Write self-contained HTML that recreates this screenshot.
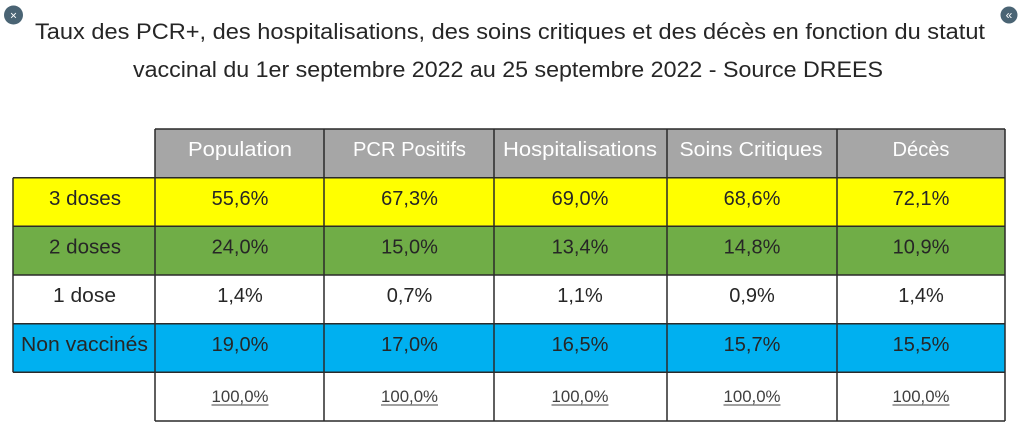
<!DOCTYPE html>
<html>
<head>
<meta charset="utf-8">
<style>
  html,body{margin:0;padding:0;background:#fff;}
  body{width:1024px;height:428px;overflow:hidden;}
  svg{display:block;}
  text{font-family:"Liberation Sans","DejaVu Sans",sans-serif;}
</style>
</head>
<body>
<svg width="1024" height="428" viewBox="0 0 1024 428" xmlns="http://www.w3.org/2000/svg">
  <rect x="0" y="0" width="1024" height="428" fill="#ffffff"/>

  <!-- corner icons -->
  <circle cx="13.5" cy="15" r="9.5" fill="#4a6474"/>
  <text x="13.5" y="19.5" font-size="12" fill="#ffffff" text-anchor="middle">×</text>
  <circle cx="1009" cy="15" r="8.5" fill="#4a6474"/>
  <text x="1009" y="19" font-size="12" fill="#ffffff" text-anchor="middle">«</text>

  <!-- title -->
  <text x="510" y="39" font-size="22" fill="#262626" text-anchor="middle" textLength="950" lengthAdjust="spacingAndGlyphs">Taux des PCR+, des hospitalisations, des soins critiques et des décès en fonction du statut</text>
  <text x="508" y="77" font-size="22" fill="#262626" text-anchor="middle" textLength="750" lengthAdjust="spacingAndGlyphs">vaccinal du 1er septembre 2022 au 25 septembre 2022 - Source DREES</text>

  <!-- fills -->
  <rect x="155" y="129" width="850" height="48.7" fill="#a6a6a6"/>
  <rect x="13" y="177.7" width="992" height="48.6" fill="#ffff00"/>
  <rect x="13" y="226.3" width="992" height="48.7" fill="#70ad47"/>
  <rect x="13" y="275" width="992" height="48.7" fill="#ffffff"/>
  <rect x="13" y="323.7" width="992" height="48.6" fill="#00b0f0"/>

  <!-- grid lines -->
  <g stroke="#2a2a2a" stroke-width="1.5" fill="none">
    <line x1="155" y1="129" x2="1005" y2="129"/>
    <line x1="13" y1="177.7" x2="1005" y2="177.7"/>
    <line x1="13" y1="226.3" x2="1005" y2="226.3"/>
    <line x1="13" y1="275" x2="1005" y2="275"/>
    <line x1="13" y1="323.7" x2="1005" y2="323.7"/>
    <line x1="13" y1="372.3" x2="1005" y2="372.3"/>
    <line x1="155" y1="421" x2="1005" y2="421"/>
    <line x1="13" y1="177.7" x2="13" y2="372.3"/>
    <line x1="155" y1="129" x2="155" y2="421"/>
    <line x1="324" y1="129" x2="324" y2="421"/>
    <line x1="494" y1="129" x2="494" y2="421"/>
    <line x1="667" y1="129" x2="667" y2="421"/>
    <line x1="837" y1="129" x2="837" y2="421"/>
    <line x1="1005" y1="129" x2="1005" y2="421"/>
  </g>

  <!-- header text -->
  <g font-size="20" fill="#ffffff" text-anchor="middle">
    <text x="240" y="156" textLength="104" lengthAdjust="spacingAndGlyphs">Population</text>
    <text x="409.5" y="156" textLength="113" lengthAdjust="spacingAndGlyphs">PCR Positifs</text>
    <text x="580" y="156" textLength="154" lengthAdjust="spacingAndGlyphs">Hospitalisations</text>
    <text x="751" y="156" textLength="143" lengthAdjust="spacingAndGlyphs">Soins Critiques</text>
    <text x="921" y="156" textLength="57" lengthAdjust="spacingAndGlyphs">Décès</text>
  </g>

  <!-- row labels -->
  <g font-size="20" fill="#262626" text-anchor="middle">
    <text x="85" y="205" textLength="72" lengthAdjust="spacingAndGlyphs">3 doses</text>
    <text x="85" y="253.5" textLength="72" lengthAdjust="spacingAndGlyphs">2 doses</text>
    <text x="84.5" y="302" textLength="63" lengthAdjust="spacingAndGlyphs">1 dose</text>
    <text x="84.5" y="351" textLength="127" lengthAdjust="spacingAndGlyphs">Non vaccinés</text>
  </g>

  <!-- data -->
  <g font-size="20" fill="#262626" text-anchor="middle">
    <text x="240" y="205">55,6%</text>
    <text x="409.5" y="205">67,3%</text>
    <text x="580" y="205">69,0%</text>
    <text x="752" y="205">68,6%</text>
    <text x="921" y="205">72,1%</text>

    <text x="240" y="253.5">24,0%</text>
    <text x="409.5" y="253.5">15,0%</text>
    <text x="580" y="253.5">13,4%</text>
    <text x="752" y="253.5">14,8%</text>
    <text x="921" y="253.5">10,9%</text>

    <text x="240" y="302">1,4%</text>
    <text x="409.5" y="302">0,7%</text>
    <text x="580" y="302">1,1%</text>
    <text x="752" y="302">0,9%</text>
    <text x="921" y="302">1,4%</text>

    <text x="240" y="351">19,0%</text>
    <text x="409.5" y="351">17,0%</text>
    <text x="580" y="351">16,5%</text>
    <text x="752" y="351">15,7%</text>
    <text x="921" y="351">15,5%</text>
  </g>

  <!-- totals -->
  <g font-size="17" fill="#404040" text-anchor="middle">
    <text x="240" y="402" textLength="57" lengthAdjust="spacingAndGlyphs">100,0%</text>
    <text x="409.5" y="402" textLength="57" lengthAdjust="spacingAndGlyphs">100,0%</text>
    <text x="580" y="402" textLength="57" lengthAdjust="spacingAndGlyphs">100,0%</text>
    <text x="752" y="402" textLength="57" lengthAdjust="spacingAndGlyphs">100,0%</text>
    <text x="921" y="402" textLength="57" lengthAdjust="spacingAndGlyphs">100,0%</text>
  </g>
  <g stroke="#404040" stroke-width="1">
    <line x1="211.5" y1="405" x2="268.5" y2="405"/>
    <line x1="381" y1="405" x2="438" y2="405"/>
    <line x1="551.5" y1="405" x2="608.5" y2="405"/>
    <line x1="723.5" y1="405" x2="780.5" y2="405"/>
    <line x1="892.5" y1="405" x2="949.5" y2="405"/>
  </g>
</svg>
</body>
</html>
